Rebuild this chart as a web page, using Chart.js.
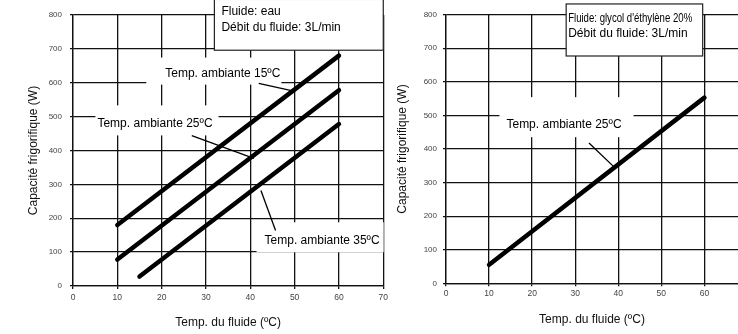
<!DOCTYPE html>
<html>
<head>
<meta charset="utf-8">
<script src="https://cdn.jsdelivr.net/npm/chart.js@4"></script>
<style>
  body { margin: 0; background: #fff; width: 738px; height: 334px; position: relative; overflow: hidden; }
  canvas { position: absolute; top: 0; }
  #eau { left: 0; }
  #glycol { left: 390px; }
</style>
</head>
<body>
<canvas id="eau" width="392" height="334"></canvas>
<canvas id="glycol" width="348" height="334"></canvas>
<script>
// eau : temp. du fluide (ºC) aux extrémités des droites, capacité (W)
const tempsEau = [10, 60];
const tempsEau35 = [15, 60];
const capEau15 = [180, 680];
const capEau25 = [78, 578];
const capEau35 = [28, 478];

// glycol d'éthylène 20%
const tempsGlycol = [10, 60];
const capGlycol25 = [55, 553];

const xTicks = [0, 10, 20, 30, 40, 50, 60, 70];
const yTicks = [0, 100, 200, 300, 400, 500, 600, 700, 800];

// traits de rappel des étiquettes [temp, capacité]
const rappel15 = [[41.9, 598], [49.3, 577]];
const rappel25 = [[26.8, 444], [40.8, 377]];
const rappel35 = [[42.4, 282], [45.7, 164]];
const rappelGlycol = [[33.2, 418], [39.3, 343]];

const font = "'Liberation Sans', Arial, sans-serif";

const pts = (xs, ys) => xs.map((x, i) => ({ x, y: ys[i] }));
const seg = arr => arr.map(([x, y]) => ({ x, y }));

const notes = {
  id: 'notes',
  beforeDatasetsDraw(chart, args, opts) {
    const { ctx, scales: { x, y } } = chart;
    ctx.save();
    ctx.font = '12px ' + font;
    ctx.textBaseline = 'middle';
    ctx.textAlign = 'center';
    (opts.labels || []).forEach(l => {
      const px = x.getPixelForValue(l.x);
      const py = y.getPixelForValue(l.y);
      const w = ctx.measureText(l.text).width;
      const [pl, pt, pr, pb] = l.pad;
      ctx.fillStyle = '#fff';
      ctx.fillRect(px - w / 2 - pl, py - pt, w + pl + pr, pt + pb);
      ctx.fillStyle = '#000';
      ctx.fillText(l.text, px, py);
    });
    ctx.restore();
  },
  afterDraw(chart, args, opts) {
    const b = opts.box;
    if (!b) return;
    const { ctx, scales: { x, y } } = chart;
    const l = x.getPixelForValue(b.x0), r = x.getPixelForValue(b.x1);
    const t = y.getPixelForValue(b.y0), bt = y.getPixelForValue(b.y1);
    ctx.save();
    ctx.fillStyle = '#fff';
    ctx.fillRect(l, t, r - l, bt - t);
    ctx.strokeStyle = '#222';
    ctx.lineWidth = 1.2;
    ctx.strokeRect(l, t, r - l, bt - t);
    ctx.fillStyle = '#000';
    ctx.font = '12px ' + font;
    ctx.textBaseline = 'middle';
    ctx.textAlign = 'left';
    b.lines.forEach((s, i) => {
      ctx.fillText(s, l + b.dx, t + b.dy[i], b.maxW ? b.maxW[i] : undefined);
    });
    ctx.restore();
  }
};

function droite(data, w) {
  return {
    data, borderColor: '#000', borderWidth: w, pointRadius: 0,
    borderCapStyle: w > 2 ? 'round' : 'butt', fill: false, tension: 0
  };
}

function makeChart(id, cfg) {
  const axisStyle = {
    grid: { color: '#111', lineWidth: 1.3, tickLength: 3 },
    border: { color: '#111', width: 1.3 }
  };
  return new Chart(document.getElementById(id), {
    type: 'line',
    data: { datasets: cfg.datasets },
    options: {
      responsive: false,
      animation: false,
      layout: { padding: cfg.padding },
      plugins: { legend: { display: false }, tooltip: { enabled: false }, notes: cfg.notes },
      scales: {
        x: {
          type: 'linear', min: 0, max: cfg.xMax,
          ...axisStyle,
          afterBuildTicks: s => { s.ticks = xTicks.filter(v => v <= s.max).map(v => ({ value: v })); },
          afterFit: s => { s.height = cfg.xHeight; },
          ticks: { font: { family: font, size: 8.5 }, color: '#444', padding: cfg.xTickPad, autoSkip: false, maxRotation: 0 },
          title: { display: true, text: 'Temp. du fluide (ºC)', color: '#111', font: { family: font, size: 12 }, padding: { bottom: cfg.xTitlePad } }
        },
        y: {
          min: 0, max: 800,
          ...axisStyle,
          afterBuildTicks: s => { s.ticks = yTicks.map(v => ({ value: v })); },
          afterFit: s => { s.width = cfg.yWidth; },
          ticks: { font: { family: font, size: 8 }, color: '#444', padding: cfg.yTickPad },
          title: { display: true, text: 'Capacité frigorifique (W)', color: '#111', font: { family: font, size: 12 }, padding: { top: cfg.yTitlePad } }
        }
      }
    },
    plugins: [notes]
  });
}

makeChart('eau', {
  xMax: 70,
  padding: { top: 15, right: 7, left: 0, bottom: 0 },
  xHeight: 48, yWidth: 73, xTickPad: 4, yTickPad: 8, xTitlePad: 4, yTitlePad: 26,
  datasets: [
    droite(pts(tempsEau, capEau15), 4.5),
    droite(pts(tempsEau, capEau25), 4.5),
    droite(pts(tempsEau35, capEau35), 4.5),
    droite(seg(rappel15), 1.3),
    droite(seg(rappel25), 1.3),
    droite(seg(rappel35), 1.3)
  ],
  notes: {
    labels: [
      { text: 'Temp. ambiante 15ºC', x: 33.8, y: 627, pad: [19, 16, 1, 11] },
      { text: 'Temp. ambiante 25ºC', x: 18.5, y: 480, pad: [2, 18, 6, 12] },
      { text: 'Temp. ambiante 35ºC', x: 56.2, y: 135, pad: [8, 18, 4, 12] }
    ],
    box: {
      x0: 31.9, x1: 70, y0: 846, y1: 696, dx: 7, dy: [12, 28],
      lines: ['Fluide: eau', 'Débit du fluide: 3L/min']
    }
  }
});

makeChart('glycol', {
  xMax: 67.8,
  padding: { top: 14.7, right: 0, left: 0, bottom: 0 },
  xHeight: 50.7, yWidth: 56, xTickPad: 2, yTickPad: 6, xTitlePad: 7, yTitlePad: 5,
  datasets: [
    droite(pts(tempsGlycol, capGlycol25), 4.5),
    droite(seg(rappelGlycol), 1.3)
  ],
  notes: {
    labels: [
      { text: 'Temp. ambiante 25ºC', x: 27.4, y: 471, pad: [7, 28, 12, 12] }
    ],
    box: {
      x0: 27.9, x1: 59.6, y0: 832, y1: 677, dx: 2, dy: [15, 30], maxW: [124, 200],
      lines: ["Fluide: glycol d'éthylène 20%", 'Débit du fluide: 3L/min']
    }
  }
});
</script>
</body>
</html>
